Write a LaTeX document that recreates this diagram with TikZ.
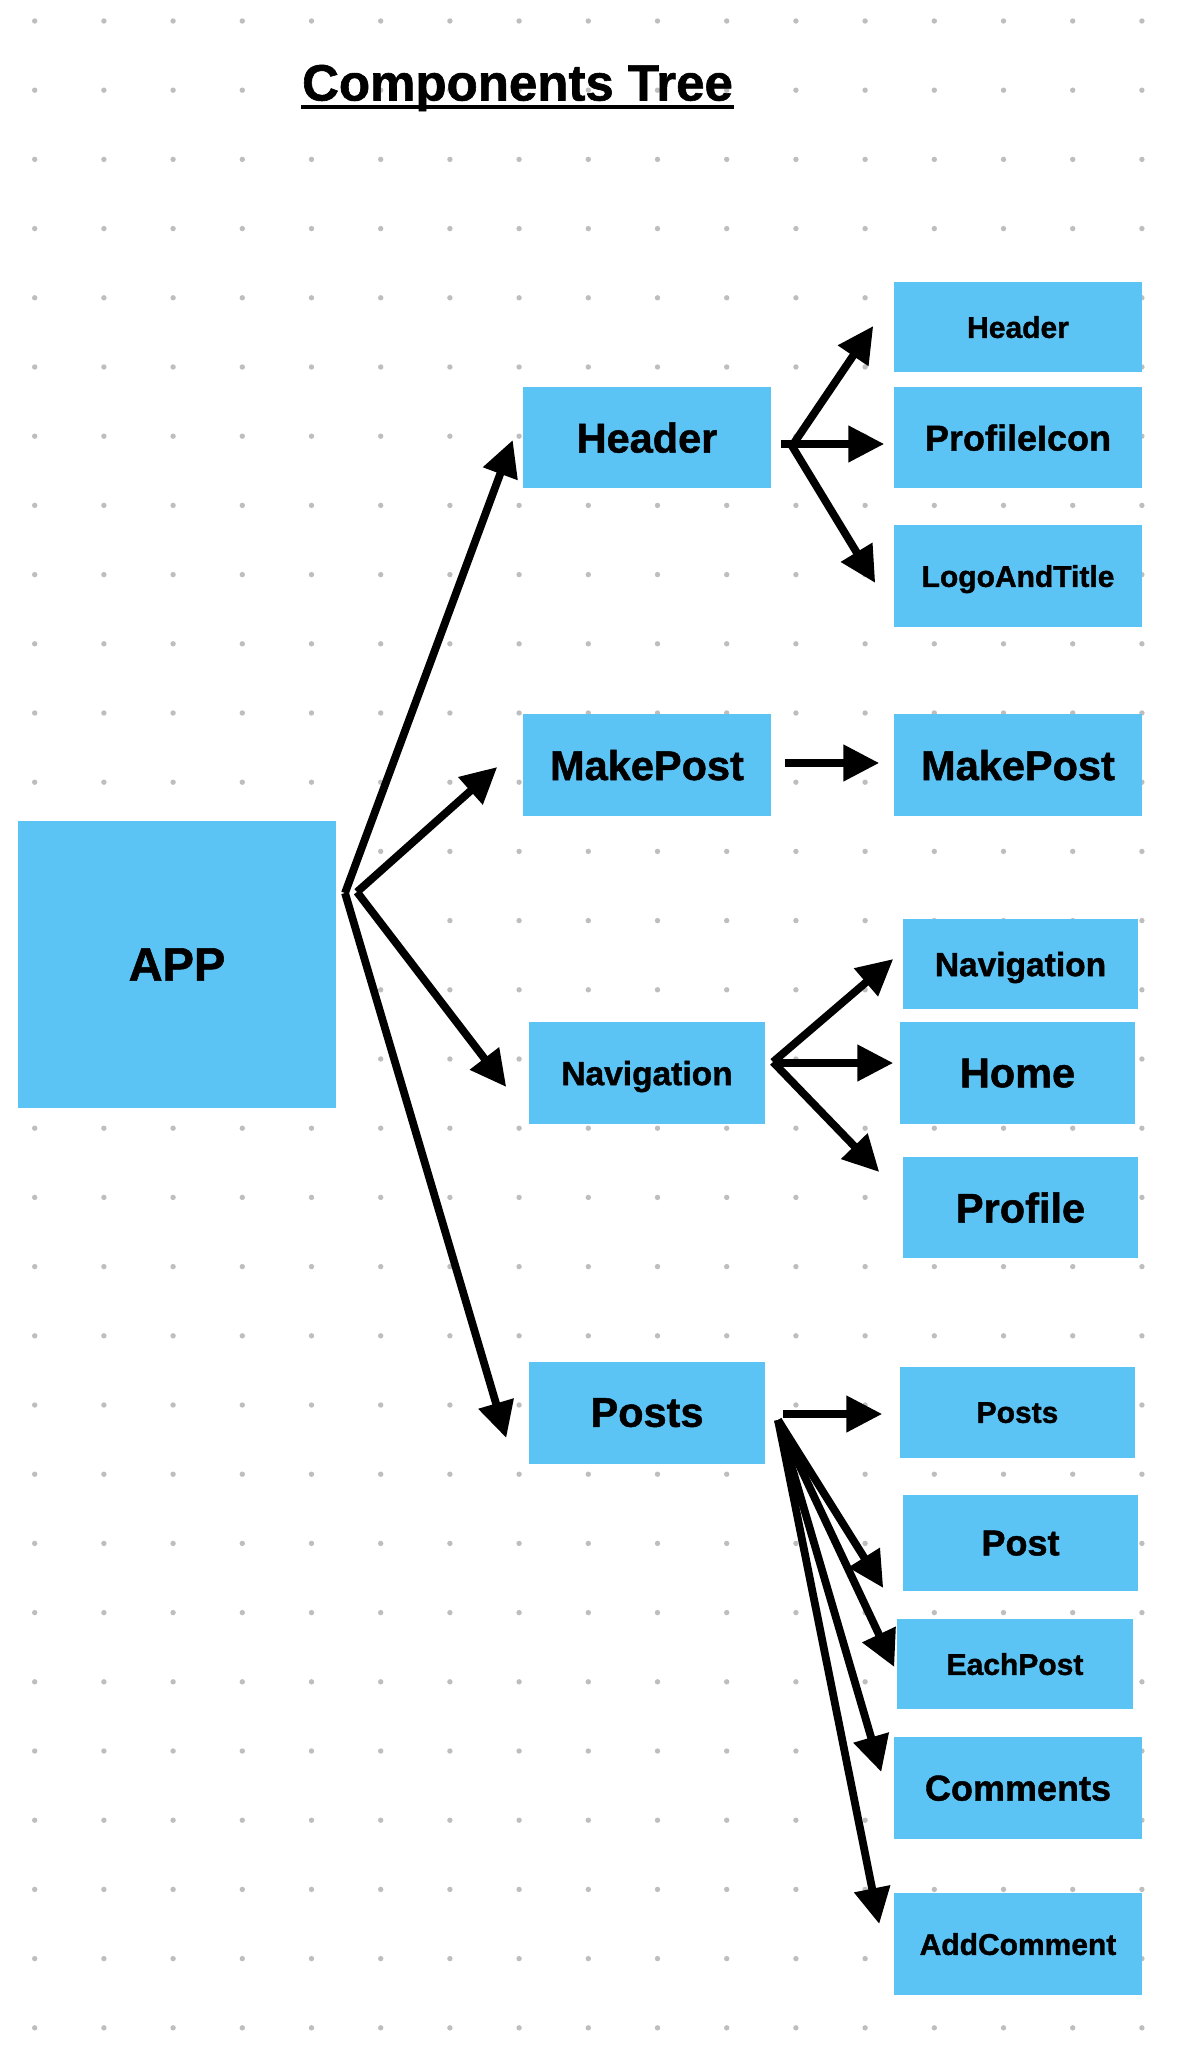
\documentclass[tikz,border=0pt]{standalone}
\usepackage{fontspec}
\setmainfont[BoldFeatures={FakeBold=1.2}]{Liberation Sans}
\usetikzlibrary{arrows.meta,calc}

\definecolor{compblue}{RGB}{91,196,245}
\definecolor{dotgrey}{RGB}{190,190,190}

\tikzset{every picture/.style={line width=0.75pt}}
\tikzset{
  compbox/.style={fill=compblue, draw=none, inner sep=0pt, text depth=0pt},
  boxsz/.style 2 args={minimum width=#1*0.5pt, minimum height=#2*0.5pt},
  apptxt/.style={font=\bfseries\fontsize{23.5}{28}\selectfont},
  bigtxt/.style={font=\bfseries\fontsize{20.75}{24}\selectfont},
  midtxt/.style={font=\bfseries\fontsize{18}{22}\selectfont},
  navtxt/.style={font=\bfseries\fontsize{16.75}{20}\selectfont},
  smalltxt/.style={font=\bfseries\fontsize{15}{18}\selectfont},
  treearrow/.style={line width=3.9pt, -{Triangle[length=18pt,width=17.5pt]}},
}

\begin{document}
\begin{tikzpicture}[x=0.5pt,y=0.5pt,yscale=-1,xscale=1]
\useasboundingbox (0,0) rectangle (1184,2048);

%Dot grid
\foreach \i in {0,...,16}
  \foreach \j in {0,...,29}
    \fill [dotgrey] (34.7+69.2*\i, 21+69.2*\j) circle (1.35pt);

% Text Node
\node [font=\bfseries\fontsize{25.5}{30}\selectfont] [inner sep=0pt, anchor=base] (title) at (517.5,100.5) {Components Tree};
\draw [line width=2.15pt] ($(title.base west)+(0,6.5)$) -- ($(title.base east)+(0,6.5)$);

%Shape: Rectangle
\node [compbox, apptxt] [boxsz={318}{287}] (app) at (177,964.5) {APP};

%Shape: Rectangle
\node [compbox, bigtxt] [boxsz={248}{101}] (header) at (647,437.5) {Header};
\node [compbox, bigtxt] [boxsz={248}{102}] (makepost) at (647,765) {MakePost};
\node [compbox, navtxt] [boxsz={236}{102}] (nav) at (647,1073) {Navigation};
\node [compbox, bigtxt] [boxsz={236}{102}] (posts) at (647,1412.5) {Posts};

%Shape: Rectangle
\node [compbox, smalltxt] [boxsz={248}{90}] (hdrhead) at (1018,327) {Header};
\node [compbox, midtxt] [boxsz={248}{101}] (hdricon) at (1018,437.5) {ProfileIcon};
\node [compbox, smalltxt] [boxsz={248}{102}] (hdrlogo) at (1018,576) {LogoAndTitle};
\node [compbox, bigtxt] [boxsz={248}{102}] (mpchild) at (1018,765) {MakePost};
\node [compbox, navtxt] [boxsz={235}{90}] (navnav) at (1020.5,964) {Navigation};
\node [compbox, bigtxt] [boxsz={235}{102}] (navhome) at (1017.5,1073) {Home};
\node [compbox, bigtxt] [boxsz={235}{101}] (navprof) at (1020.5,1207.5) {Profile};
\node [compbox, smalltxt] [boxsz={235}{91}] (pstposts) at (1017.5,1412.5) {Posts};
\node [compbox, midtxt] [boxsz={235}{96}] (pstpost) at (1020.5,1543) {Post};
\node [compbox, smalltxt] [boxsz={236}{90}] (psteach) at (1015,1664) {EachPost};
\node [compbox, midtxt] [boxsz={248}{102}] (pstcomm) at (1018,1788) {Comments};
\node [compbox, smalltxt] [boxsz={248}{102}] (pstadd) at (1018,1944) {AddComment};

%Fork points
\coordinate (appforkA) at (345,893);
\coordinate (appforkB) at (357,892);
\coordinate (hdrfork) at (792,446);
\coordinate (navfork) at (773,1062);
\coordinate (pstfork) at (778,1420);

%Straight Lines
\draw [treearrow] (appforkA) -- ($(header.west)+(-9.5,2.5)$);
\draw [treearrow] (appforkB) -- ($(makepost.west)+(-25,2)$);
\draw [treearrow] (appforkB) -- ($(nav.west)+(-22,14)$);
\draw [treearrow] (appforkA) -- ($(posts.west)+(-22,25.5)$);

%Straight Lines
\draw [treearrow] (hdrfork) -- ($(hdrhead.west)+(-20,-1)$);
\draw [treearrow] ($(header.east)+(9,6.5)$) -- ($(hdricon.west)+(-9,6.5)$);
\draw [treearrow] (hdrfork) -- ($(hdrlogo.west)+(-18,7)$);

%Straight Lines
\draw [treearrow] ($(makepost.east)+(13,-2)$) -- ($(mpchild.west)+(-14,-2)$);

%Straight Lines
\draw [treearrow] (navfork) -- ($(navnav.west)+(-9,-5)$);
\draw [treearrow] ($(nav.east)+(7,-10)$) -- ($(navhome.west)+(-6,-10)$);
\draw [treearrow] (navfork) -- ($(navprof.west)+(-23,-35.5)$);

%Straight Lines
\draw [treearrow] ($(posts.east)+(17,1.5)$) -- ($(pstposts.west)+(-17,1.5)$);
\draw [treearrow] (pstfork) -- ($(pstpost.west)+(-19,45)$);
\draw [treearrow] (pstfork) -- ($(psteach.west)+(-2,3)$);
\draw [treearrow] (pstfork) -- ($(pstcomm.west)+(-12,-16)$);
\draw [treearrow] (pstfork) -- ($(pstadd.west)+(-14,-20)$);

\end{tikzpicture}
\end{document}
